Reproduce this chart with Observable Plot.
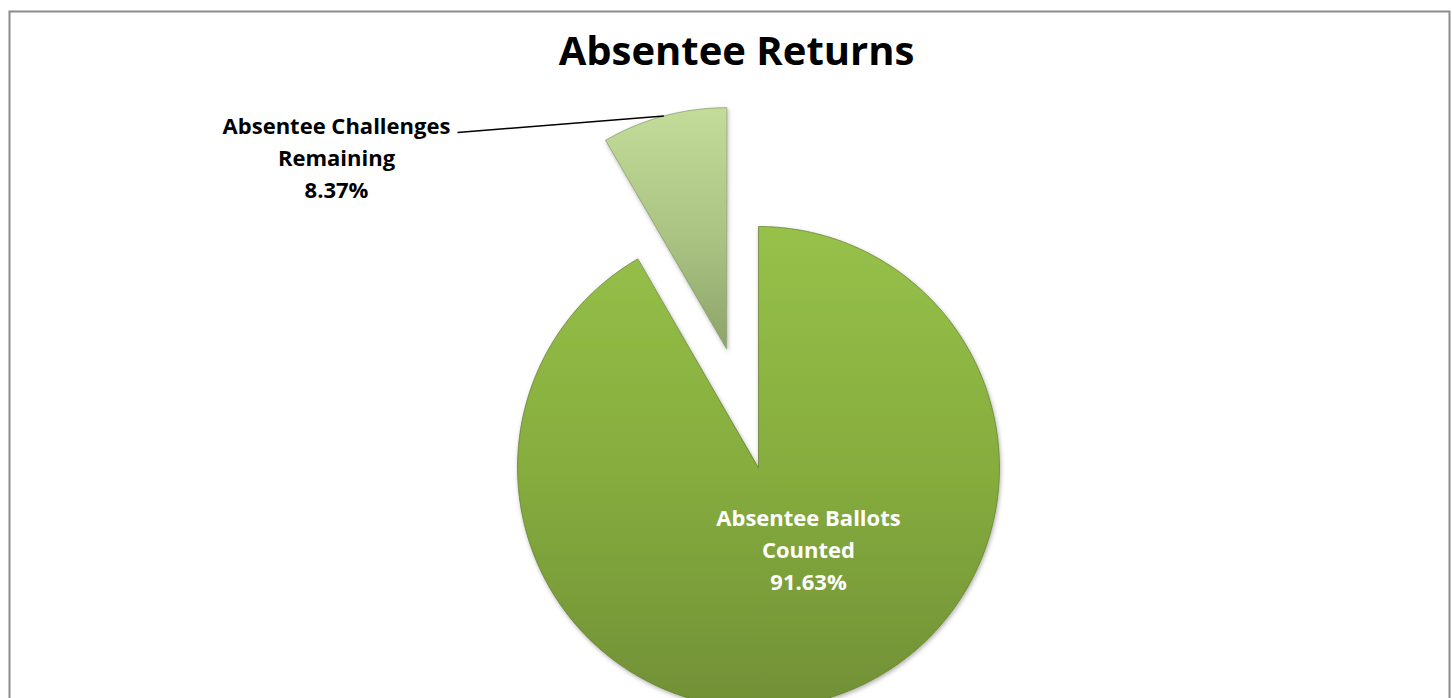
<!DOCTYPE html>
<html><head><meta charset="utf-8">
<script src="https://cdn.jsdelivr.net/npm/d3@7"></script>
<script src="https://cdn.jsdelivr.net/npm/@observablehq/plot@0.6"></script>
<style>html,body{margin:0;padding:0;background:#fff;overflow:hidden}</style>
</head><body><div id="chart"></div>
<script>
const title = "Absentee Returns";
const categories = ["Absentee Ballots Counted", "Absentee Challenges Remaining"];
const values = [91.63, 8.37];
const labelLines = ["Absentee Ballots\nCounted\n91.63%", "Absentee Challenges\nRemaining\n8.37%"];

const W = 1452, H = 698;
const cx = 758, cy = 467, R = 241;
const explode = [0, 123];
const baseFills = ["#86ad3e", "#adc584"];
const gradIds = ["gMain", "gSmall"];
const gradStops = [["#96c149", "#86ad3e", "#719036"], ["#c4dc99", "#adc584", "#8ca46a"]];
const strokes = ["#5e7a2a", "#7f9660"];

const data = categories.map((c, i) => ({name: c, value: values[i], label: labelLines[i], i}));
const arcs = d3.pie().sort(null).value(d => d.value)(data);

function slicePoints(a) {
  const mid = (a.startAngle + a.endAngle) / 2;
  const ox = cx + explode[a.data.i] * Math.sin(mid);
  const oy = cy - explode[a.data.i] * Math.cos(mid);
  const n = Math.max(8, Math.ceil((a.endAngle - a.startAngle) * 90));
  const pts = [{x: ox, y: oy}];
  for (let k = 0; k <= n; k++) {
    const t = a.startAngle + (a.endAngle - a.startAngle) * k / n;
    pts.push({x: ox + R * Math.sin(t), y: oy - R * Math.cos(t)});
  }
  return {pts, ox, oy, mid};
}
const slices = arcs.map(slicePoints);
const small = slices[1];
const leaderEnd = {x: small.ox + R * Math.sin(small.mid), y: small.oy - R * Math.cos(small.mid)};

const font = "'Open Sans', Lato, sans-serif";

const plot = Plot.plot({
  width: W, height: H, margin: 0,
  x: {domain: [0, W], range: [0, W], axis: null},
  y: {domain: [0, H], range: [0, H], axis: null},
  style: {fontFamily: font, background: "#fff"},
  marks: [
    Plot.frame({stroke: "#8c8c8c", strokeWidth: 2, insetLeft: 9, insetTop: 11, insetRight: 3, insetBottom: -10}),
    ...slices.map((s, i) => Plot.line(s.pts, {x: "x", y: "y", curve: "linear-closed", fill: baseFills[i], stroke: strokes[i], strokeWidth: 1, strokeOpacity: 0.7})),
    Plot.text([title], {frameAnchor: "top", dx: 10, dy: 36, fontSize: 40, fontWeight: "bold", fill: "#000", lineAnchor: "top"}),
    Plot.text([data[0]], {x: () => 808, y: () => 547, text: "label", fill: "#fff", fontSize: 22, fontWeight: "bold", lineHeight: 1.45, textAnchor: "middle"}),
    Plot.text([data[1]], {x: () => 336, y: () => 155, text: "label", fill: "#000", fontSize: 22, fontWeight: "bold", lineHeight: 1.45, textAnchor: "middle"}),
    Plot.link([leaderEnd], {x1: () => 457, y1: () => 132, x2: "x", y2: "y", stroke: "#000", strokeWidth: 1.6})
  ]
});

const svg = d3.select(plot);
const defs = svg.insert("defs", ":first-child");
gradIds.forEach((id, i) => {
  const lg = defs.append("linearGradient").attr("id", id).attr("x1", 0).attr("y1", 0).attr("x2", 0).attr("y2", 1);
  gradStops[i].forEach((c, k) => lg.append("stop").attr("offset", k / (gradStops[i].length - 1)).attr("stop-color", c));
});
const f = defs.append("filter").attr("id", "shadow").attr("x", "-10%").attr("y", "-10%").attr("width", "120%").attr("height", "120%");
f.append("feDropShadow").attr("dx", 1).attr("dy", 2).attr("stdDeviation", 2).attr("flood-color", "#000").attr("flood-opacity", 0.3);

baseFills.forEach((c, i) => {
  svg.selectAll(`g[aria-label="line"][fill="${c}"] path`)
    .attr("fill", `url(#${gradIds[i]})`)
    .attr("filter", "url(#shadow)");
});
document.getElementById("chart").appendChild(plot);
</script>
</body></html>
